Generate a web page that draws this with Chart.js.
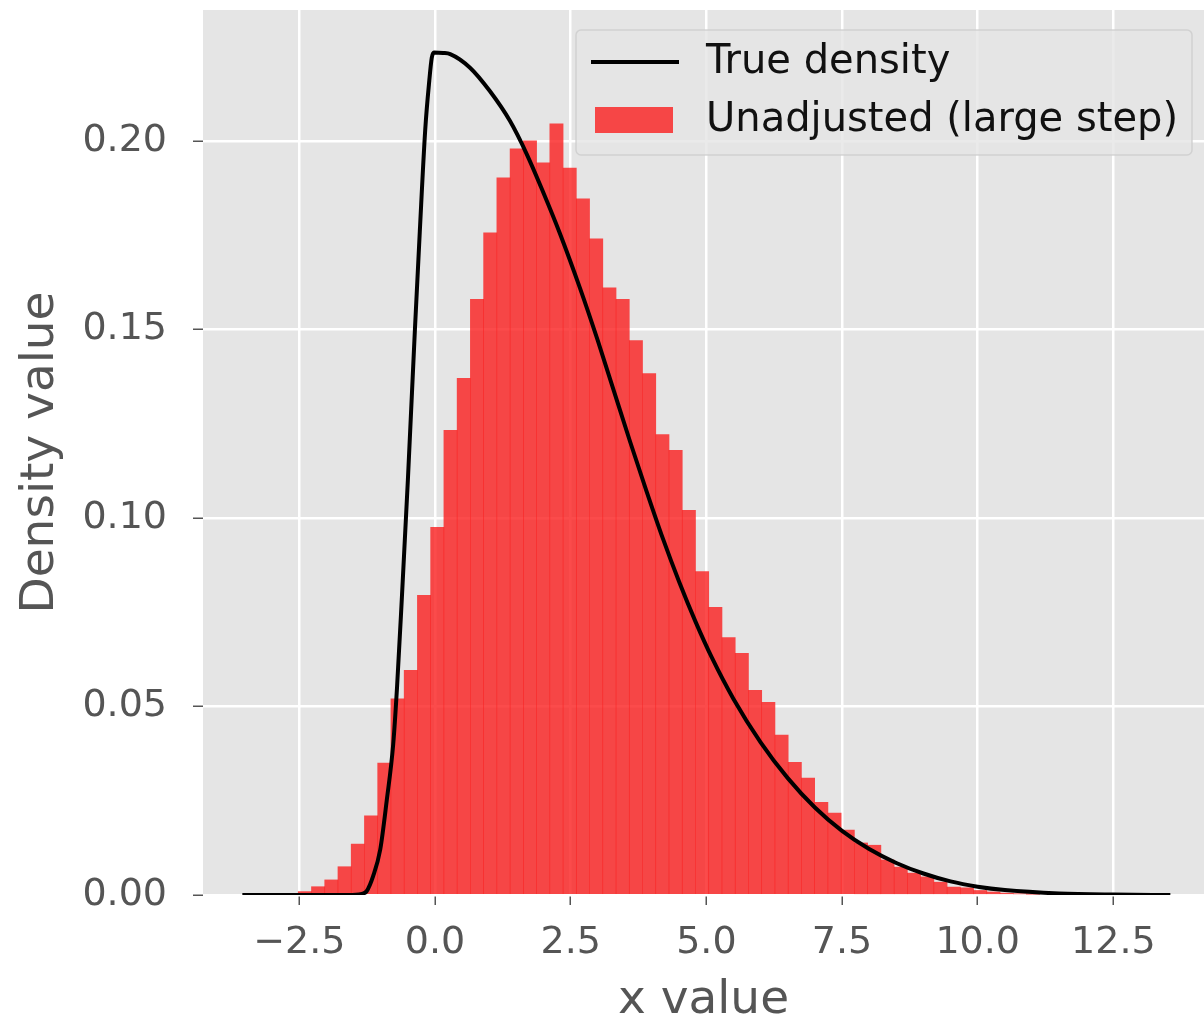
<!DOCTYPE html>
<html>
<head>
<meta charset="utf-8">
<script src="https://cdn.jsdelivr.net/npm/chart.js@4.4.0/dist/chart.umd.min.js"></script>
<style>
  html, body { margin: 0; padding: 0; background: #ffffff; }
  #wrap { width: 1204px; height: 1020px; }
</style>
</head>
<body>
<div id="wrap"><canvas id="chart-hist" width="1204" height="1020"></canvas></div>
<script>
// histogram bins (regular bins)
const binStart = -2.52;
const binWidth = 0.244;
const histHeights = [
    0.0009, 0.0022, 0.0040, 0.0075, 0.0135, 0.0210, 0.0350, 0.0520, 0.0596, 0.0795,
    0.0975, 0.1232, 0.1370, 0.1580, 0.1756, 0.1902, 0.1979, 0.2000, 0.1942, 0.2045,
    0.1928, 0.1846, 0.1740, 0.1610, 0.1580, 0.1470, 0.1383, 0.1221, 0.1179, 0.1020,
    0.0858, 0.0763, 0.0683, 0.0641, 0.0543, 0.0511, 0.0424, 0.0352, 0.0310, 0.0246,
    0.0217, 0.0172, 0.0138, 0.0132, 0.0093, 0.0074, 0.0058, 0.0048, 0.0034, 0.0021,
    0.0019, 0.0012, 0.0008, 0.0005, 0.0003, 0.0002
];

// true density curve
const curveX = [-3.55, -2.5, -1.6, -1.35, -1.26, -1.14, -1.01, -0.89, -0.77, -0.70,
    -0.61, -0.50, -0.37, -0.28, -0.18, -0.105, -0.06, -0.02, 0.15, 0.28,
    0.645, 1.01, 1.38, 1.69, 1.99, 2.3, 2.67, 3.0, 3.3, 3.6,
    3.9, 4.2, 4.5, 4.8, 5.1, 5.5, 6.0, 6.5, 7.0, 7.5,
    8.0, 8.5, 9.0, 9.5, 10.0, 10.5, 11.5, 12.5, 13.55];
const curveY = [0, 0, 0, 0.0003, 0.001, 0.005, 0.012, 0.025, 0.040, 0.055,
    0.079, 0.110, 0.150, 0.176, 0.203, 0.216, 0.222, 0.2234, 0.2233, 0.2230,
    0.2194, 0.2132, 0.2053, 0.1965, 0.1865, 0.1755, 0.1610, 0.1470, 0.1335, 0.1200,
    0.1070, 0.0945, 0.0830, 0.0725, 0.0630, 0.0520, 0.0405, 0.0310, 0.0232, 0.0170,
    0.0122, 0.0085, 0.0057, 0.0036, 0.0022, 0.0013, 0.0004, 0.0001, 0];

const xTickValues = [-2.5, 0, 2.5, 5, 7.5, 10, 12.5];
const yTickValues = [0, 0.05, 0.10, 0.15, 0.20];
const seriesLabels = ["True density", "Unadjusted (large step)"];

const barColor = 'rgba(250,30,30,0.8)';
const font = '"DejaVu Sans", Verdana, sans-serif';

// ggplot style grey panel
const panelBackground = {
    id: 'panelBackground',
    beforeDraw(chart) {
        const a = chart.chartArea, ctx = chart.ctx;
        ctx.save();
        ctx.fillStyle = '#e5e5e5';
        ctx.fillRect(a.left, a.top, a.right - a.left, a.bottom - a.top);
        ctx.restore();
    }
};

// legend box inside the panel, upper right
const innerLegend = {
    id: 'innerLegend',
    afterDatasetsDraw(chart) {
        const a = chart.chartArea, ctx = chart.ctx;
        const bx = a.right - 628, by = a.top + 20, bw = 616, bh = 125;
        ctx.save();
        ctx.beginPath();
        ctx.roundRect(bx, by, bw, bh, 5);
        ctx.fillStyle = 'rgba(229,229,229,0.8)';
        ctx.fill();
        ctx.strokeStyle = 'rgba(204,204,204,0.8)';
        ctx.lineWidth = 1.5;
        ctx.stroke();

        ctx.strokeStyle = '#000';
        ctx.lineWidth = 4;
        ctx.beginPath();
        ctx.moveTo(bx + 15, by + 32);
        ctx.lineTo(bx + 103, by + 32);
        ctx.stroke();

        ctx.fillStyle = barColor;
        ctx.fillRect(bx + 19, by + 77, 78, 26);

        ctx.fillStyle = '#111';
        ctx.font = '40px ' + font;
        ctx.textBaseline = 'middle';
        ctx.textAlign = 'left';
        ctx.fillText(seriesLabels[0], bx + 130, by + 33);
        ctx.fillText(seriesLabels[1], bx + 130, by + 91);
        ctx.restore();
    }
};

window.charts = window.charts || {};

window.charts["chart-hist"] = new Chart(document.getElementById('chart-hist'), {
    type: 'bar',
    data: {
        datasets: [{
            type: 'line',
            label: seriesLabels[0],
            data: curveX.map((x, i) => ({ x: x, y: curveY[i] })),
            borderColor: '#000',
            borderWidth: 4,
            pointRadius: 0,
            fill: false,
            cubicInterpolationMode: 'monotone',
            order: 0
        },
        {
            type: 'bar',
            label: seriesLabels[1],
            data: histHeights.map((h, i) => ({ x: binStart + (i + 0.5) * binWidth, y: h })),
            backgroundColor: barColor,
            borderWidth: 0,
            barPercentage: 1,
            categoryPercentage: 1,
            order: 1
        }]
    },
    options: {
        responsive: false,
        animation: false,
        layout: { padding: { top: 10, right: 0, left: 0, bottom: 0 } },
        plugins: {
            legend: { display: false },
            tooltip: { enabled: false }
        },
        scales: {
            x: {
                type: 'linear',
                offset: false,
                min: -4.275,
                max: 14.17,
                afterBuildTicks: (scale) => { scale.ticks = xTickValues.map(v => ({ value: v })); },
                afterFit: (scale) => {
                    scale.height = 125;
                    scale.paddingLeft = 0;
                    scale.paddingRight = 0;
                },
                border: { display: false },
                grid: {
                    offset: false,
                    color: '#ffffff',
                    lineWidth: 2.5,
                    tickColor: '#555555',
                    tickWidth: 1.5,
                    tickLength: 10
                },
                ticks: {
                    color: '#555555',
                    padding: 15,
                    maxRotation: 0,
                    font: { family: font, size: 38 },
                    callback: (v) => v.toFixed(1).replace('-', '\u2212')
                },
                title: {
                    display: true,
                    text: 'x value',
                    color: '#555555',
                    padding: { top: 0, bottom: 0 },
                    font: { family: font, size: 47, lineHeight: 0.8 }
                }
            },
            y: {
                min: 0,
                max: 0.2347,
                afterBuildTicks: (scale) => { scale.ticks = yTickValues.map(v => ({ value: v })); },
                afterFit: (scale) => {
                    scale.width = 203;
                    scale.paddingTop = 0;
                    scale.paddingBottom = 0;
                },
                border: { display: false },
                grid: {
                    color: '#ffffff',
                    lineWidth: 2.5,
                    tickColor: '#555555',
                    tickWidth: 1.5,
                    tickLength: 10
                },
                ticks: {
                    color: '#555555',
                    padding: 26,
                    font: { family: font, size: 38 },
                    callback: (v) => v.toFixed(2)
                },
                title: {
                    display: true,
                    text: 'Density value',
                    color: '#555555',
                    padding: { top: 17, bottom: 0 },
                    font: { family: font, size: 47, lineHeight: 1 }
                }
            }
        }
    },
    plugins: [panelBackground, innerLegend]
});
</script>
</body>
</html>
